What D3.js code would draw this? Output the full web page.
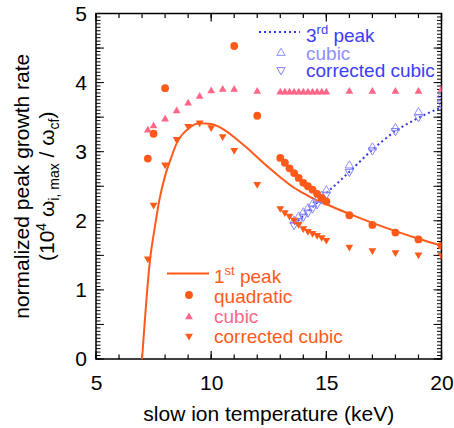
<!DOCTYPE html>
<html>
<head>
<meta charset="utf-8">
<script src="https://cdn.jsdelivr.net/npm/d3@7"></script>
<style>
body { margin: 0; background: #fff; }
text { font-family: "Liberation Sans", Arial, Helvetica, sans-serif; }
</style>
</head>
<body>
<div id="canvas"></div>
<script>
// ----------------------------------------------------------
// DATA -----------------------------------------------------
// ----------------------------------------------------------
// 1st peak : quadratic (filled circles)
var quad_x = [7.25, 7.5, 8, 11, 12, 13, 13.2, 13.4, 13.6, 13.8, 14, 14.2, 14.4, 14.6, 14.8, 15, 16, 17, 18, 19, 20];
var quad_y = [2.90, 3.26, 3.92, 4.53, 3.52, 2.91, 2.84, 2.76, 2.69, 2.62, 2.55, 2.50, 2.45, 2.39, 2.33, 2.28, 2.08, 1.94, 1.83, 1.73, 1.64];

// 1st peak : cubic (filled up triangles)
var cubic_x = [7.25, 7.5, 8, 8.5, 9, 9.5, 10, 10.5, 11, 12, 13, 13.2, 13.4, 13.6, 13.8, 14, 14.2, 14.4, 14.6, 14.8, 15, 16, 17, 18, 19, 20];
var cubic_y = [3.31, 3.37, 3.47, 3.59, 3.70, 3.80, 3.88, 3.90, 3.90, 3.87, 3.86, 3.86, 3.86, 3.86, 3.86, 3.86, 3.86, 3.86, 3.86, 3.86, 3.86, 3.87, 3.87, 3.87, 3.87, 3.90];

// 1st peak : corrected cubic (filled down triangles)
var corr_x = [7.25, 7.5, 8, 8.5, 9, 9.5, 10, 10.5, 11, 12, 13, 13.2, 13.4, 13.6, 13.8, 14, 14.2, 14.4, 14.6, 14.8, 15, 16, 17, 18, 19, 20];
var corr_y = [1.45, 2.23, 2.81, 3.18, 3.37, 3.42, 3.35, 3.22, 3.02, 2.53, 2.18, 2.12, 2.07, 2.01, 1.95, 1.89, 1.85, 1.82, 1.79, 1.76, 1.72, 1.62, 1.57, 1.54, 1.51, 1.50];

// 1st peak : fitted curve
var peak1_x = [7.0, 7.35, 7.55, 7.75, 8.0, 8.25, 8.5, 9.0, 9.5, 10.0, 10.5, 11.0, 11.5, 12.0, 12.5, 13.0, 13.5, 14.0, 14.5, 15.0, 16.0, 17.0, 18.0, 19.0, 20.0];
var peak1_y = [0.0, 1.45, 1.90, 2.30, 2.65, 2.90, 3.12, 3.33, 3.41, 3.40, 3.33, 3.21, 3.07, 2.92, 2.77, 2.63, 2.50, 2.40, 2.31, 2.24, 2.10, 1.97, 1.85, 1.74, 1.64];

// 3rd peak : cubic (open up triangles) and corrected cubic (open down triangles)
var p3_x = [13.6, 13.8, 14, 14.2, 14.4, 14.6, 14.8, 15, 16, 17, 18, 19, 20];
var p3_cubic_y = [2.00, 2.06, 2.12, 2.18, 2.24, 2.30, 2.36, 2.44, 2.80, 3.06, 3.34, 3.57, 3.82];
var p3_corr_y = [1.94, 2.00, 2.06, 2.12, 2.18, 2.24, 2.31, 2.38, 2.71, 3.02, 3.30, 3.50, 3.70];

// 3rd peak : fitted curve (dotted)
var peak3_x = [13.6, 14, 14.5, 15, 15.5, 16, 16.5, 17, 17.5, 18, 18.5, 19, 19.5, 20];
var peak3_y = [1.95, 2.07, 2.23, 2.40, 2.55, 2.71, 2.87, 3.03, 3.17, 3.30, 3.40, 3.49, 3.57, 3.64];

// ticks
var x_ticks = [5, 10, 15, 20];
var y_ticks = [0, 1, 2, 3, 4, 5];

var data_set =
{
container_width: 454,
container_height: 428,
left: 96,
right: 441.5,
top: 13.5,
bottom: 359,
color_orange: "#ff5a1a",
color_pink: "#ff6688",
color_blue: "#3c3cff",
color_blue_light: "#9090ff",
color_dots: "#3535e8"
};


// ----------------------------------------------------------
// STRUCTURE ------------------------------------------------
// ----------------------------------------------------------
var container = d3.select("#canvas").append("svg")
.attr("width", data_set.container_width)
.attr("height", data_set.container_height)
.style("background-color", "#fff");

var xScale = d3.scaleLinear().domain([5, 20]).range([data_set.left, data_set.right]);
var yScale = d3.scaleLinear().domain([0, 5]).range([data_set.bottom, data_set.top]);

container.append("clipPath")
.attr("id", "plot_clip")
.append("rect")
.attr("x", data_set.left)
.attr("y", data_set.top)
.attr("width", data_set.right - data_set.left)
.attr("height", data_set.bottom - data_set.top);

var axis_group = container.append("g").attr("class", "axis_group");
var gfx_group = container.append("g").attr("class", "gfx_group").attr("clip-path", "url(#plot_clip)");
var legend_group = container.append("g").attr("class", "legend_group");


// ----------------------------------------------------------
// AXES -----------------------------------------------------
// ----------------------------------------------------------
var x_minor = d3.range(5, 20.01, 1);
var y_minor = d3.range(0, 100.5, 1).map((d) => d * 0.05);

// frame
axis_group.append("rect")
.attr("x", data_set.left)
.attr("y", data_set.top)
.attr("width", data_set.right - data_set.left)
.attr("height", data_set.bottom - data_set.top)
.attr("fill", "none")
.attr("stroke", "#000")
.attr("stroke-width", 1.5);

// inner tick marks, drawn as plain lines from the scales
function xTickMarks(values, len) {
axis_group.append("g").selectAll("line")
.data(values.flatMap((v) => [[v, data_set.bottom, -len], [v, data_set.top, len]]))
.enter()
.append("line")
.attr("x1", (d) => xScale(d[0]))
.attr("x2", (d) => xScale(d[0]))
.attr("y1", (d) => d[1])
.attr("y2", (d) => d[1] + d[2])
.attr("stroke", "#000")
.attr("stroke-width", 1.2);
}
function yTickMarks(values, len) {
axis_group.append("g").selectAll("line")
.data(values.flatMap((v) => [[v, data_set.left, len], [v, data_set.right, -len]]))
.enter()
.append("line")
.attr("y1", (d) => yScale(d[0]))
.attr("y2", (d) => yScale(d[0]))
.attr("x1", (d) => d[1])
.attr("x2", (d) => d[1] + d[2])
.attr("stroke", "#000")
.attr("stroke-width", 1);
}
xTickMarks(x_minor, 4.5);
xTickMarks(x_ticks, 8);
yTickMarks(y_minor, 4.5);
yTickMarks(y_minor.filter((d, i) => i % 10 === 0), 8);

// tick labels through d3 axes
var x_axis = axis_group.append("g")
.attr("transform", `translate(0, ${data_set.bottom})`)
.call(d3.axisBottom(xScale).tickValues(x_ticks).tickSize(0).tickPadding(16).tickFormat(d3.format("d")));
var y_axis = axis_group.append("g")
.attr("transform", `translate(${data_set.left}, 0)`)
.call(d3.axisLeft(yScale).tickValues(y_ticks).tickSize(0).tickPadding(9).tickFormat(d3.format("d")));
[x_axis, y_axis].forEach((g) => {
g.select(".domain").remove();
g.attr("font-size", 21).attr("font-family", null);
g.selectAll("text").attr("fill", "#000");
});

// axis titles
axis_group.append("text")
.attr("x", (data_set.left + data_set.right) / 2)
.attr("y", 421)
.attr("text-anchor", "middle")
.attr("font-size", 21)
.text("slow ion temperature (keV)");

var ylab = axis_group.append("g")
.attr("transform", `translate(0, ${(data_set.top + data_set.bottom) / 2}) rotate(-90)`);
ylab.append("text")
.attr("x", 0)
.attr("y", 29)
.attr("text-anchor", "middle")
.attr("font-size", 21)
.text("normalized peak growth rate");

var ylab2 = ylab.append("text")
.attr("x", 0)
.attr("y", 54)
.attr("text-anchor", "middle")
.attr("font-size", 21);
ylab2.append("tspan").text("(10");
ylab2.append("tspan").attr("dy", -8).attr("font-size", 14).text("4");
ylab2.append("tspan").attr("dy", 8).text(" \u03c9");
ylab2.append("tspan").attr("dy", 5).attr("font-size", 14).text("i, max");
ylab2.append("tspan").attr("dy", -5).text(" / \u03c9");
ylab2.append("tspan").attr("dy", 5).attr("font-size", 14).text("cf");
ylab2.append("tspan").attr("dy", -5).text(")");


// ----------------------------------------------------------
// GFX ------------------------------------------------------
// ----------------------------------------------------------
var makeLine = d3.line()
.x((d) => xScale(d[0]))
.y((d) => yScale(d[1]))
.curve(d3.curveMonotoneX);

var circle_sym = d3.symbol().type(d3.symbolCircle).size(48);
var tri_sym = d3.symbol().type(d3.symbolTriangle).size(26);
var tri_open_sym = d3.symbol().type(d3.symbolTriangle).size(30);

// 1st peak curve
gfx_group.append("path")
.attr("d", makeLine(d3.zip(peak1_x, peak1_y)))
.attr("fill", "none")
.attr("stroke", data_set.color_orange)
.attr("stroke-width", 2);

// 3rd peak curve
gfx_group.append("path")
.attr("d", makeLine(d3.zip(peak3_x, peak3_y)))
.attr("fill", "none")
.attr("stroke", data_set.color_dots)
.attr("stroke-width", 2)
.attr("stroke-dasharray", "2,3");

// 3rd peak open triangles
gfx_group.selectAll(".p3_cubic")
.data(d3.zip(p3_x, p3_cubic_y))
.enter()
.append("path")
.attr("class", "p3_cubic")
.attr("d", tri_open_sym)
.attr("transform", (d) => `translate(${xScale(d[0])}, ${yScale(d[1])})`)
.attr("fill", "none")
.attr("stroke", data_set.color_blue_light)
.attr("stroke-width", 1);

gfx_group.selectAll(".p3_corr")
.data(d3.zip(p3_x, p3_corr_y))
.enter()
.append("path")
.attr("class", "p3_corr")
.attr("d", tri_open_sym)
.attr("transform", (d) => `translate(${xScale(d[0])}, ${yScale(d[1])}) rotate(180)`)
.attr("fill", "none")
.attr("stroke", "#8080ff")
.attr("stroke-width", 1);

// 1st peak markers
gfx_group.selectAll(".cubic")
.data(d3.zip(cubic_x, cubic_y))
.enter()
.append("path")
.attr("class", "cubic")
.attr("d", tri_sym)
.attr("transform", (d) => `translate(${xScale(d[0])}, ${yScale(d[1])})`)
.attr("fill", data_set.color_pink);

gfx_group.selectAll(".corr")
.data(d3.zip(corr_x, corr_y))
.enter()
.append("path")
.attr("class", "corr")
.attr("d", tri_sym)
.attr("transform", (d) => `translate(${xScale(d[0])}, ${yScale(d[1])}) rotate(180)`)
.attr("fill", data_set.color_orange);

gfx_group.selectAll(".quad")
.data(d3.zip(quad_x, quad_y))
.enter()
.append("path")
.attr("class", "quad")
.attr("d", circle_sym)
.attr("transform", (d) => `translate(${xScale(d[0])}, ${yScale(d[1])})`)
.attr("fill", data_set.color_orange);


// ----------------------------------------------------------
// LEGENDS --------------------------------------------------
// ----------------------------------------------------------
// 3rd peak legend (top right)
legend_group.append("line")
.attr("x1", 259).attr("x2", 300).attr("y1", 32).attr("y2", 32)
.attr("stroke", data_set.color_dots)
.attr("stroke-width", 2)
.attr("stroke-dasharray", "2,3");
legend_group.append("path")
.attr("d", tri_open_sym)
.attr("transform", "translate(281, 53)")
.attr("fill", "none")
.attr("stroke", data_set.color_blue_light);
legend_group.append("path")
.attr("d", tri_open_sym)
.attr("transform", "translate(281, 70) rotate(180)")
.attr("fill", "none")
.attr("stroke", "#8080ff");

var t3 = legend_group.append("text")
.attr("x", 306).attr("y", 42)
.attr("font-size", 19)
.attr("fill", data_set.color_blue);
t3.append("tspan").text("3");
t3.append("tspan").attr("dy", -8).attr("font-size", 13).text("rd");
t3.append("tspan").attr("dy", 8).text(" peak");
legend_group.append("text")
.attr("x", 306).attr("y", 60)
.attr("font-size", 19)
.attr("fill", data_set.color_blue_light)
.text("cubic");
legend_group.append("text")
.attr("x", 306).attr("y", 77)
.attr("font-size", 19)
.attr("fill", data_set.color_blue)
.text("corrected cubic");

// 1st peak legend (bottom left)
legend_group.append("line")
.attr("x1", 167).attr("x2", 209).attr("y1", 273.5).attr("y2", 273.5)
.attr("stroke", data_set.color_orange)
.attr("stroke-width", 2);
legend_group.append("path")
.attr("d", circle_sym)
.attr("transform", "translate(189, 295)")
.attr("fill", data_set.color_orange);
legend_group.append("path")
.attr("d", tri_sym)
.attr("transform", "translate(189, 317)")
.attr("fill", data_set.color_pink);
legend_group.append("path")
.attr("d", tri_sym)
.attr("transform", "translate(189, 336) rotate(180)")
.attr("fill", data_set.color_orange);

var t1 = legend_group.append("text")
.attr("x", 214).attr("y", 283)
.attr("font-size", 19)
.attr("fill", data_set.color_orange);
t1.append("tspan").text("1");
t1.append("tspan").attr("dy", -8).attr("font-size", 13).text("st");
t1.append("tspan").attr("dy", 8).text(" peak");
legend_group.append("text")
.attr("x", 214).attr("y", 303)
.attr("font-size", 19)
.attr("fill", data_set.color_orange)
.text("quadratic");
legend_group.append("text")
.attr("x", 214).attr("y", 323)
.attr("font-size", 19)
.attr("fill", data_set.color_pink)
.text("cubic");
legend_group.append("text")
.attr("x", 214).attr("y", 343)
.attr("font-size", 19)
.attr("fill", data_set.color_orange)
.text("corrected cubic");
</script>
</body>
</html>
